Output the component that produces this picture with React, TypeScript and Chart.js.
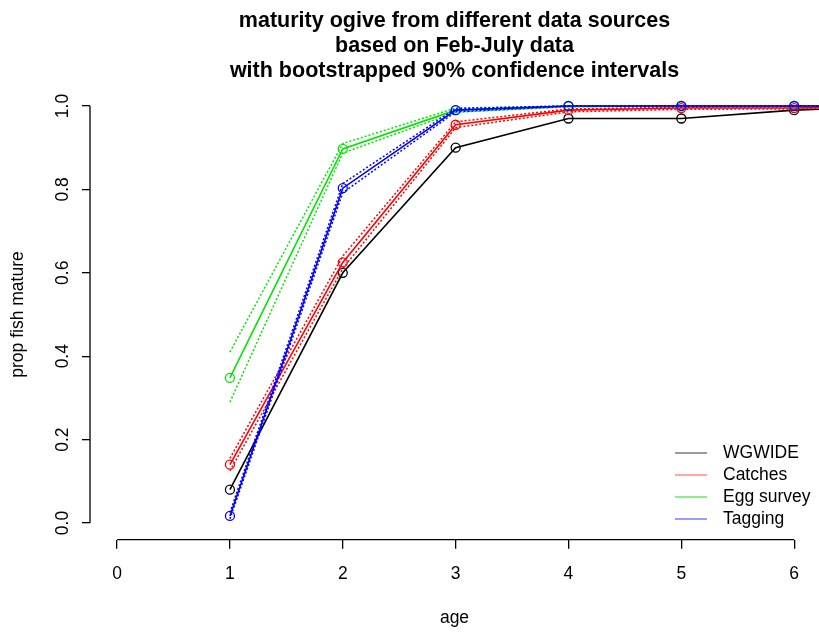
import React, { useEffect, useRef } from 'react';
import { Chart, registerables } from 'chart.js';
Chart.register(...registerables);

// ---- data ----
const ages = [1, 2, 3, 4, 5, 6, 7];
const wgwide = [0.08, 0.6, 0.9, 0.97, 0.97, 0.99, 1.0];
const catches = [0.14, 0.625, 0.955, 0.99, 0.995, 0.995, 1.0];
const catchesLo = [0.125, 0.61, 0.948, 0.986, 0.992, 0.993, 1.0];
const catchesHi = [0.155, 0.64, 0.962, 0.993, 0.997, 0.998, 1.0];
const eggSurvey = [0.348, 0.897, 0.99, 1.0, 1.0, 1.0, 1.0];
const eggLo = [0.29, 0.887, 0.985, 0.998, 1.0, 1.0, 1.0];
const eggHi = [0.41, 0.91, 0.995, 1.0, 1.0, 1.0, 1.0];
const tagging = [0.017, 0.803, 0.99, 1.0, 1.0, 1.0, 1.0];
const tagLo = [0.01, 0.792, 0.986, 0.999, 1.0, 1.0, 1.0];
const tagHi = [0.025, 0.814, 0.994, 1.0, 1.0, 1.0, 1.0];

const xTickValues = [0, 1, 2, 3, 4, 5, 6];
const yTickValues = [0, 0.2, 0.4, 0.6, 0.8, 1.0];
const titleLines = [
  'maturity ogive from different data sources',
  'based on Feb-July data',
  'with bootstrapped 90% confidence intervals',
];
const seriesNames = ['WGWIDE', 'Catches', 'Egg survey', 'Tagging'];
const seriesColors = ['#000000', '#ff0000', '#00e600', '#0000ff'];
const legendColors = ['rgba(0,0,0,0.6)', 'rgba(255,0,0,0.55)', 'rgba(0,220,0,0.7)', 'rgba(0,0,255,0.6)'];

const FONT = "'Liberation Sans', Arial, Helvetica, sans-serif";

const toXY = (vals: number[]) => ages.map((a, i) => ({ x: a, y: vals[i] }));

const rPlot = {
  id: 'rPlot',
  afterDraw(chart: any) {
    const { ctx, chartArea, scales } = chart;
    const x = scales.x;
    const y = scales.y;
    ctx.save();
    // R-style axis lines spanning tick range
    ctx.strokeStyle = '#000';
    ctx.lineWidth = 1.3;
    ctx.beginPath();
    ctx.moveTo(chartArea.left, y.getPixelForValue(yTickValues[0]));
    ctx.lineTo(chartArea.left, y.getPixelForValue(yTickValues[yTickValues.length - 1]));
    ctx.moveTo(x.getPixelForValue(xTickValues[0]), chartArea.bottom);
    ctx.lineTo(x.getPixelForValue(xTickValues[xTickValues.length - 1]), chartArea.bottom);
    ctx.stroke();
    // title
    ctx.fillStyle = '#000';
    ctx.font = `bold 21.5px ${FONT}`;
    ctx.textAlign = 'center';
    ctx.textBaseline = 'middle';
    const cx = (chartArea.left + chartArea.right) / 2;
    titleLines.forEach((t, i) => ctx.fillText(t, cx, 21 + i * 25));
    // legend (no box)
    ctx.font = `17.5px ${FONT}`;
    ctx.textAlign = 'left';
    seriesNames.forEach((name, i) => {
      const ly = 453 + i * 22;
      ctx.strokeStyle = legendColors[i];
      ctx.lineWidth = 1.3;
      ctx.beginPath();
      ctx.moveTo(675, ly);
      ctx.lineTo(707, ly);
      ctx.stroke();
      ctx.fillStyle = '#000';
      ctx.fillText(name, 723, ly);
    });
    ctx.restore();
  },
};

export default function App() {
  const ref = useRef<HTMLCanvasElement | null>(null);
  useEffect(() => {
    if (!ref.current) return;
    Chart.defaults.color = '#000';
    const main = (label: string, vals: number[], color: string, order: number) => ({
      label,
      data: toXY(vals),
      borderColor: color,
      backgroundColor: 'rgba(0,0,0,0)',
      borderWidth: 1.6,
      pointRadius: 4.5,
      pointBorderWidth: 1.3,
      pointBorderColor: color,
      pointBackgroundColor: 'rgba(0,0,0,0)',
      tension: 0,
      order,
    });
    const ci = (label: string, vals: number[], color: string, order: number) => ({
      label,
      data: toXY(vals),
      borderColor: color,
      backgroundColor: 'rgba(0,0,0,0)',
      borderWidth: 1.5,
      borderDash: [2, 2],
      pointRadius: 0,
      tension: 0,
      order,
    });
    const chart = new Chart(ref.current, {
      type: 'line',
      data: {
        datasets: [
          main(seriesNames[3], tagging, seriesColors[3], 1),
          ci('Tagging lower', tagLo, seriesColors[3], 1),
          ci('Tagging upper', tagHi, seriesColors[3], 1),
          main(seriesNames[2], eggSurvey, seriesColors[2], 2),
          ci('Egg survey lower', eggLo, seriesColors[2], 2),
          ci('Egg survey upper', eggHi, seriesColors[2], 2),
          main(seriesNames[1], catches, seriesColors[1], 3),
          ci('Catches lower', catchesLo, seriesColors[1], 3),
          ci('Catches upper', catchesHi, seriesColors[1], 3),
          main(seriesNames[0], wgwide, seriesColors[0], 4),
        ] as any,
      },
      options: {
        animation: false,
        responsive: false,
        maintainAspectRatio: false,
        devicePixelRatio: 1,
        layout: { autoPadding: false, padding: { top: 89.3, left: 0, right: 0, bottom: 0 } },
        plugins: {
          legend: { display: false },
          title: { display: false },
          tooltip: { enabled: false },
        },
        scales: {
          x: {
            type: 'linear',
            min: -0.24,
            max: 6.22,
            afterBuildTicks: (s: any) => {
              s.ticks = xTickValues.map((v) => ({ value: v }));
            },
            afterFit: (s: any) => {
              s.height = 93.3;
              s.paddingLeft = 0;
              s.paddingRight = 0;
            },
            ticks: {
              font: { size: 17.5, family: FONT },
              color: '#000',
              padding: 15,
              maxRotation: 0,
              minRotation: 0,
              callback: (v: any) => String(v),
            },
            grid: {
              display: true,
              drawOnChartArea: false,
              drawTicks: true,
              tickLength: 9,
              color: '#000',
              lineWidth: 1.3,
            },
            border: { display: false },
            title: {
              display: true,
              text: 'age',
              color: '#000',
              font: { size: 17.5, family: FONT },
              padding: { top: 0, bottom: 4 },
            },
          },
          y: {
            type: 'linear',
            min: -0.04,
            max: 1.04,
            afterBuildTicks: (s: any) => {
              s.ticks = yTickValues.map((v) => ({ value: v }));
            },
            afterFit: (s: any) => {
              s.width = 90;
              s.paddingTop = 0;
              s.paddingBottom = 0;
            },
            ticks: {
              font: { size: 17.5, family: FONT },
              color: '#000',
              padding: 7,
              minRotation: 90,
              maxRotation: 90,
              crossAlign: 'center',
              callback: (v: any) => Number(v).toFixed(1),
            },
            grid: {
              display: true,
              drawOnChartArea: false,
              drawTicks: true,
              tickLength: 8,
              color: '#000',
              lineWidth: 1.3,
            },
            border: { display: false },
            title: {
              display: true,
              text: 'prop fish mature',
              color: '#000',
              font: { size: 17.5, family: FONT },
              padding: { top: 8, bottom: 0 },
            },
          },
        },
      } as any,
      plugins: [rPlot],
    });
    return () => chart.destroy();
  }, []);
  return (
    <div style={{ position: 'fixed', left: 0, top: 0, width: 819, height: 633, background: '#fff' }}>
      <canvas ref={ref} width={819} height={633} />
    </div>
  );
}
